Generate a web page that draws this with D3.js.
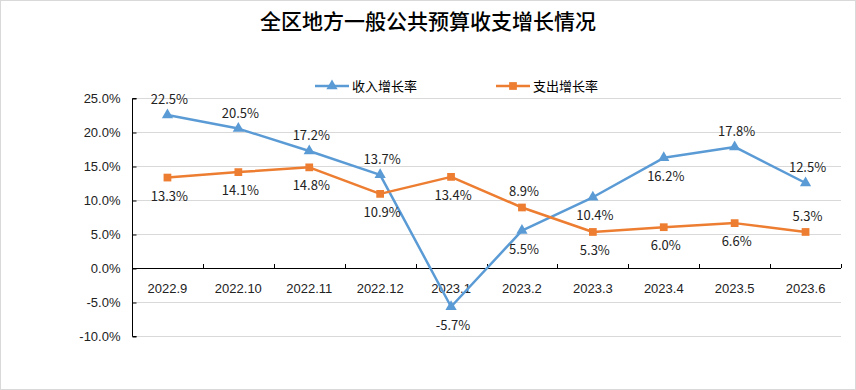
<!DOCTYPE html>
<html><head><meta charset="utf-8">
<script src="https://cdn.jsdelivr.net/npm/d3@7"></script>
<style>
html,body{margin:0;padding:0;background:#fff;}
svg{display:block;font-family:"Noto Sans CJK SC","Noto Sans",sans-serif;}
</style></head>
<body><svg id="c" width="856" height="390"></svg>
<script>
const title = "全区地方一般公共预算收支增长情况";
const categories = ["2022.9","2022.10","2022.11","2022.12","2023.1","2023.2","2023.3","2023.4","2023.5","2023.6"];
const seriesNames = ["收入增长率","支出增长率"];
const incomeGrowth = [22.5,20.5,17.2,13.7,-5.7,5.5,10.4,16.2,17.8,12.5];
const expenseGrowth = [13.3,14.1,14.8,10.9,13.4,8.9,5.3,6.0,6.6,5.3];
const yTicks = [25,20,15,10,5,0,-5,-10];
// label side: 1 = above the point, -1 = below
const incomeLabelSide = [1,1,1,1,-1,-1,-1,-1,1,1];
const expenseLabelSide = [-1,-1,-1,-1,-1,1,-1,-1,-1,1];

(function(){
const svg = d3.select("#c");
const W = 856, H = 390;
svg.append("rect").attr("x",0.5).attr("y",0.5).attr("width",W-1).attr("height",H-1)
  .attr("fill","#fff").attr("stroke","#d9d9d9");

const pL = 132, pR = 841, pT = 98, pB = 336;
const x = d3.scaleBand().domain(categories).range([pL,pR]);
const y = d3.scaleLinear().domain([-10,25]).range([pB,pT]);

svg.append("text").attr("x",428).attr("y",29).attr("text-anchor","middle")
  .attr("font-size",21).attr("font-weight",500).attr("fill","#000").text(title);

svg.append("g").selectAll("line").data(yTicks).join("line")
  .attr("x1",pL).attr("x2",pR).attr("y1",d=>y(d)+0.5).attr("y2",d=>y(d)+0.5)
  .attr("stroke","#d9d9d9").attr("stroke-width",1);

const yAxis = svg.append("g").attr("transform",`translate(${pL+0.5},0.5)`)
  .call(d3.axisLeft(y).tickValues(yTicks).tickSize(-4).tickPadding(12).tickFormat(d=>d.toFixed(1)+"%"));
yAxis.select(".domain").attr("stroke","#000").attr("d",`M4,${pT}H0V${pB}H4`);
yAxis.selectAll(".tick line").attr("stroke","#000").attr("x2",4);
yAxis.selectAll("text").attr("font-size",13).attr("fill","#222").attr("x",-12);

const xAxis = svg.append("g").attr("transform",`translate(0,${y(0)+0.5})`)
  .call(d3.axisBottom(x).tickSize(0).tickPadding(0));
xAxis.select(".domain").attr("stroke","#000").attr("d",`M${pL},0H${pR}`);
xAxis.selectAll(".tick text").attr("font-size",13).attr("fill","#222").attr("dy","0").attr("y",24);
svg.append("g").selectAll("line").data(d3.range(categories.length+1)).join("line")
  .attr("x1",i=>Math.round(pL+i*x.step())+0.5).attr("x2",i=>Math.round(pL+i*x.step())+0.5)
  .attr("y1",y(0)).attr("y2",y(0)-4).attr("stroke","#000");

const cx = d => x(d)+x.bandwidth()/2;
const line = d3.line().x(d=>cx(d[0])).y(d=>y(d[1]));

function drawSeries(vals, color, marker, sides){
  const pts = categories.map((c,i)=>[c,vals[i]]);
  svg.append("path").datum(pts).attr("d",line).attr("fill","none")
    .attr("stroke",color).attr("stroke-width",2.5).attr("stroke-linejoin","round");
  const sym = d3.symbol().type(marker).size(marker===d3.symbolSquare?60:55);
  svg.append("g").selectAll("path").data(pts).join("path")
    .attr("transform",d=>`translate(${cx(d[0])},${y(d[1])})`)
    .attr("d",sym).attr("fill",color);
  svg.append("g").selectAll("text").data(pts).join("text")
    .attr("x",d=>cx(d[0])+2)
    .attr("y",(d,i)=>y(d[1]) + (sides[i]>0 ? -11 : 23))
    .attr("text-anchor","middle").attr("font-size",13).attr("fill","#222")
    .text(d=>d[1].toFixed(1)+"%");
}
drawSeries(incomeGrowth,"#5b9bd5",d3.symbolTriangle,incomeLabelSide);
drawSeries(expenseGrowth,"#ed7d31",d3.symbolSquare,expenseLabelSide);

const legend = [{name:seriesNames[0],color:"#5b9bd5",sym:d3.symbolTriangle,x:315},
                {name:seriesNames[1],color:"#ed7d31",sym:d3.symbolSquare,x:496}];
const lg = svg.append("g").selectAll("g").data(legend).join("g")
  .attr("transform",d=>`translate(${d.x},86)`);
lg.append("line").attr("x1",0).attr("x2",34).attr("stroke",d=>d.color).attr("stroke-width",2.5);
lg.append("path").attr("transform","translate(17,0)")
  .attr("d",d=>d3.symbol().type(d.sym).size(d.sym===d3.symbolSquare?60:55)()).attr("fill",d=>d.color);
lg.append("text").attr("x",37).attr("y",5).attr("font-size",13).attr("fill","#000").text(d=>d.name);
})();
</script></body></html>
